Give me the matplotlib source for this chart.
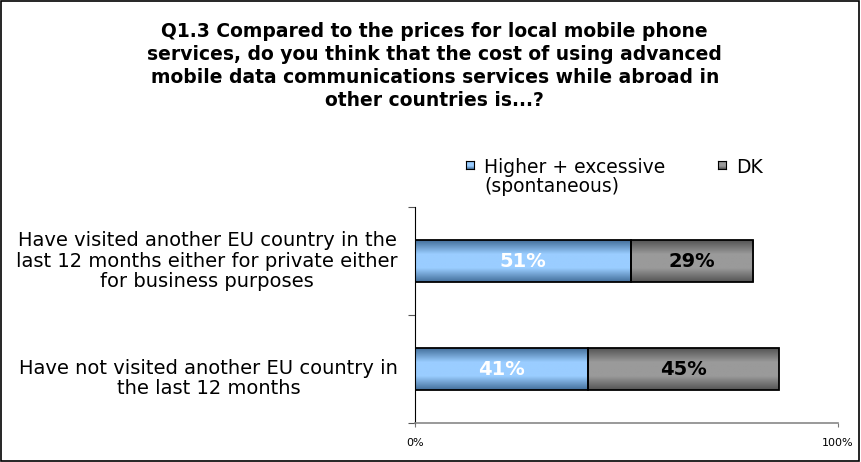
import numpy as np
import matplotlib.pyplot as plt
from matplotlib.colors import LinearSegmentedColormap
from matplotlib.patches import Rectangle
from matplotlib.transforms import blended_transform_factory

plt.rcParams['font.family'] = ['DejaVu Sans']

# Data
categories = [
    "Have visited another EU country in the\nlast 12 months either for private either\nfor business purposes",
    "Have not visited another EU country in\nthe last 12 months",
]
higher = [51, 41]
dk = [29, 45]
series_names = ["Higher + excessive\n(spontaneous)", "DK"]
title = ("Q1.3 Compared to the prices for local mobile phone\n"
         "services, do you think that the cost of using advanced\n"
         "mobile data communications services while abroad in\n"
         "other countries is...?")

blue_light, blue_dark = "#9ACDFF", "#44709C"
grey_light, grey_dark = "#9A9A9A", "#555555"

fig = plt.figure(figsize=(8.61, 4.62), dpi=100)
fig.patch.set_facecolor("white")
fig.add_artist(Rectangle((0.001, 0.002), 0.997, 0.996, transform=fig.transFigure,
                         fill=False, edgecolor="black", linewidth=1.2))

ax = fig.add_axes([0.482, 0.0844, 0.491, 0.4675])

def shaded(dark, light):
    return LinearSegmentedColormap.from_list(
        "s", [dark, light, light, dark], N=256)

cm_blue = shaded(blue_dark, blue_light)
cm_grey = shaded(grey_dark, grey_light)
grad = np.linspace(0, 1, 64).reshape(-1, 1)

ypos = [1, 0]
h = 0.38
for y, a, b in zip(ypos, higher, dk):
    for left, width, cmap, col in [(0, a, cm_blue, "white"), (a, b, cm_grey, "black")]:
        ax.imshow(grad, cmap=cmap, aspect="auto", origin="lower",
                  extent=[left, left + width, y - h / 2, y + h / 2], zorder=2)
        ax.add_patch(Rectangle((left, y - h / 2), width, h, fill=False,
                               edgecolor="black", linewidth=1.3, zorder=3))
        ax.text(left + width / 2, y, f"{width}%", ha="center", va="center",
                color=col, fontsize=14, fontweight="bold", zorder=4)

ax.set_xlim(0, 100)
ax.set_ylim(-0.5, 1.5)
ax.set_yticks([-0.5, 0.5, 1.5])
ax.set_yticklabels([])
ax.tick_params(axis="y", length=5, direction="out", color="#555555")

# category labels, right-aligned just left of the axis
lab_tr = blended_transform_factory(ax.transAxes, ax.transData)
label_y = [1.0, -0.09]
for ly, cat in zip(label_y, categories):
    ax.text(-0.04, ly, cat, transform=lab_tr, ha="right", va="center",
            multialignment="center", fontsize=14, linespacing=1.1)

ax.set_xticks([0, 100])
ax.set_xticklabels(["0%", "100%"], fontsize=8)
ax.tick_params(axis="x", length=3, color="#777777", pad=8)
for s in ["top", "right"]:
    ax.spines[s].set_visible(False)
ax.spines["left"].set_color("black")
ax.spines["bottom"].set_color("#888888")
ax.spines["bottom"].set_linewidth(1.2)

fig.text(0.505, 0.952, title, ha="center", va="top", fontsize=13.5,
         fontweight="bold", linespacing=1.26)

# Legend
for x0, name, cmap in [(0.541, series_names[0], cm_blue), (0.834, series_names[1], cm_grey)]:
    lax = fig.add_axes([x0, 0.635, 0.0095, 0.0175])
    lax.imshow(grad, cmap=cmap, aspect="auto", origin="lower", extent=[0, 1, 0, 1])
    lax.set_xticks([]); lax.set_yticks([])
    for sp in lax.spines.values():
        sp.set_color("black")
    fig.text(x0 + 0.021, 0.657, name, ha="left", va="top", fontsize=13.5,
             linespacing=1.0)

fig.savefig("out.png", dpi=100)
